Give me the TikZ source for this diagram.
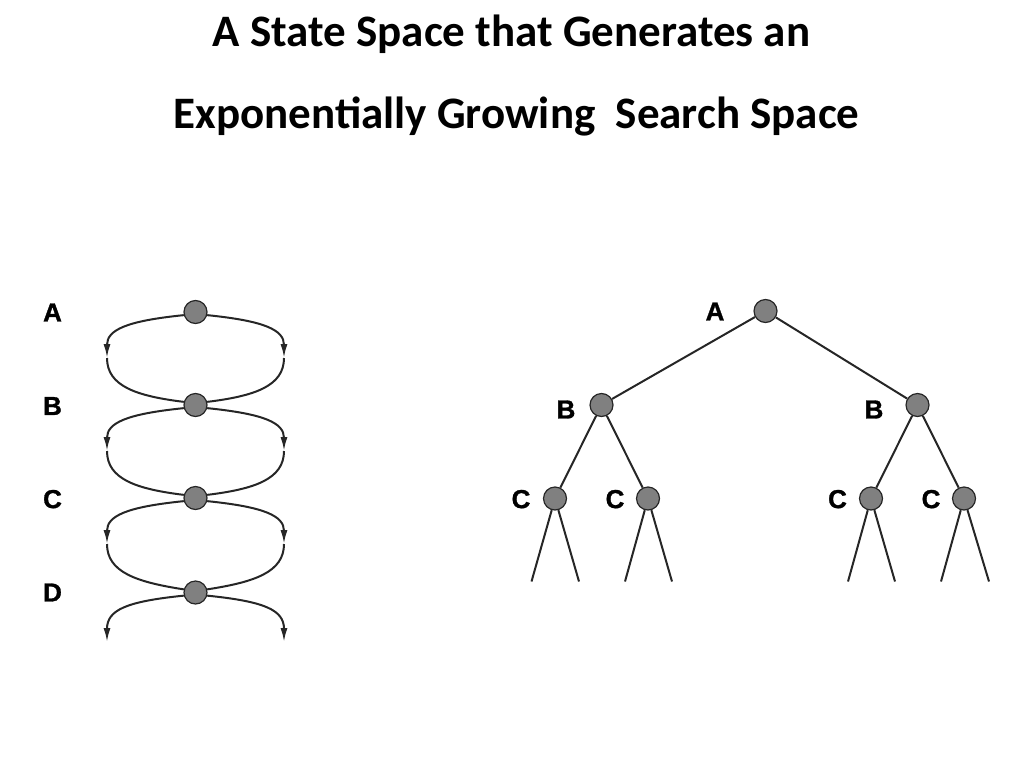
\documentclass[tikz,border=0pt]{standalone}
\usepackage{fontspec}
\setmainfont{Carlito}
\newfontfamily\labfamily{Liberation Sans Bold}[FakeBold=1.2]
\usetikzlibrary{arrows.meta}
\begin{document}
\begin{tikzpicture}[x=1pt,y=-1pt,
  st/.style={circle,draw=black!85,fill=black!50,line width=1.2pt,minimum size=23pt,inner sep=0pt},
  lab/.style={font=\labfamily\fontsize{26}{26}\selectfont,inner sep=0pt,text depth=0pt},
  edge/.style={line width=2pt,black!85},
  arr/.style={edge,-{Latex[length=14pt,width=7pt]}},
  ttl/.style={font=\bfseries\fontsize{45}{45}\selectfont,inner sep=0pt,anchor=base}]
\useasboundingbox (0,0) rectangle (1024,768);
% title
\node[ttl] (t1) at (511.5,46.5) {A State Space that Generates an};
\node[ttl] (t2) at (516.5,128) {Exponentially Growing\ \ Search Space};
% left: state space
\node[st] (a) at (195.5,312) {};
\node[st] (b) at (195.5,405) {};
\node[st] (c) at (195.5,498) {};
\node[st] (d) at (195.5,592.5) {};
\node[lab] (la) at (52.5,312.5) {A};
\node[lab] (lb) at (52.5,406) {B};
\node[lab] (lc) at (52.5,499) {C};
\node[lab] (ld) at (52.5,592.5) {D};
\foreach \u/\v/\y in {a/b/312, b/c/405, c/d/498}{
  \coordinate (L\u) at (107,\y+46);
  \coordinate (R\u) at (284,\y+46);
  \draw[arr] (\u.195) .. controls (126,\y+9) and (107,\y+18) .. (L\u);
  \draw[edge] (L\u) .. controls (107,\y+74) and (136,\y+84) .. (\v.165);
  \draw[arr] (\u.-15) .. controls (265,\y+9) and (284,\y+18) .. (R\u);
  \draw[edge] (R\u) .. controls (284,\y+74) and (255,\y+84) .. (\v.15);
}
\coordinate (Ld) at (107,642);
\coordinate (Rd) at (284,642);
\draw[arr] (d.195) .. controls (126,601.5) and (107,610) .. (Ld);
\draw[arr] (d.-15) .. controls (265,601.5) and (284,610) .. (Rd);
% right: search tree
\node[st] (A) at (765.5,311) {};
\node[st] (B1) at (601.5,405) {};
\node[st] (B2) at (917.5,405) {};
\node[st] (C1) at (555,498.5) {};
\node[st] (C2) at (648,498.5) {};
\node[st] (C3) at (871,498.5) {};
\node[st] (C4) at (964,498.5) {};
\node[lab] (lA) at (715,311.5) {A};
\node[lab] (lB1) at (566,409.5) {B};
\node[lab] (lB2) at (874,409.5) {B};
\node[lab] (lC1) at (521,499) {C};
\node[lab] (lC2) at (615,499) {C};
\node[lab] (lC3) at (837.5,499) {C};
\node[lab] (lC4) at (931,499) {C};
\draw[edge] (A) -- (B1);
\draw[edge] (A) -- (B2);
\draw[edge] (B1) -- (C1);
\draw[edge] (B1) -- (C2);
\draw[edge] (B2) -- (C3);
\draw[edge] (B2) -- (C4);
\foreach \n/\xl/\xr in {C1/531.5/579, C2/625/672, C3/848/895, C4/941/989}{
  \coordinate (\n l) at (\xl,581.5);
  \coordinate (\n r) at (\xr,581.5);
  \draw[edge] (\n) -- (\n l);
  \draw[edge] (\n) -- (\n r);
}
\end{tikzpicture}
\end{document}
